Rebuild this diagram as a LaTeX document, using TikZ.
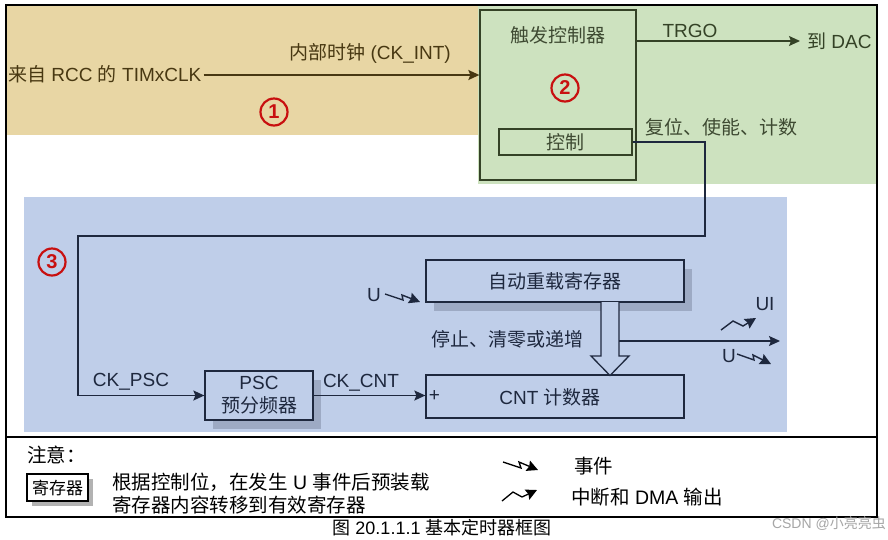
\documentclass[tikz,border=0pt]{standalone}
\usepackage{fontspec}
\setmainfont{Liberation Sans}
\newfontfamily\cjk{Noto Sans CJK SC}
\newcommand{\zh}[1]{{\cjk #1}}
\usetikzlibrary{arrows.meta,shadows}
\definecolor{tanc}{RGB}{232,214,164}
\definecolor{greenc}{RGB}{205,226,191}
\definecolor{bluec}{RGB}{191,206,233}
\definecolor{shadc}{RGB}{157,170,196}
\definecolor{navy}{RGB}{30,40,62}
\definecolor{dkgreen}{RGB}{52,66,38}
\definecolor{brownc}{RGB}{72,56,18}
\definecolor{numred}{RGB}{200,16,16}
\definecolor{txtgreen}{RGB}{62,74,50}
\begin{document}
\begin{tikzpicture}[x=1pt,y=-1pt,
  font=\fontsize{19}{23}\selectfont,
  >={Stealth[length=11pt,width=10pt,inset=2pt]},
  num/.style={circle, draw=numred, line width=2.2pt, text=numred,
    font=\fontsize{20}{20}\selectfont\bfseries, minimum size=27pt, inner sep=0pt},
  trigbox/.style={draw=dkgreen, line width=1.3pt, text=txtgreen, inner sep=0pt},
  bbox/.style={draw=navy, line width=1.3pt, fill=bluec, text=navy, inner sep=0pt},
  shad/.style={drop shadow={shadow xshift=8pt, shadow yshift=-9pt, fill=shadc, opacity=1}},
  wire/.style={draw=navy, line width=1.3pt},
  zig/.style={draw=navy, line width=1.4pt, -{Stealth[length=11pt,width=11pt,inset=1.5pt]}},
  lzig/.style={draw=black, line width=1.3pt, -{Stealth[length=11pt,width=11pt,inset=1.5pt]}},
  btext/.style={text=navy},
  legend/.style={font=\fontsize{19.5}{23}\selectfont, text=black}
]
\useasboundingbox (0,0) rectangle (888,539);
\fill[white] (0,0) rectangle (888,539);
\clip (0,0) rectangle (888,539);

% regions
\fill[tanc] (6,5) rectangle (480,135);
\fill[greenc] (478,5) rectangle (877,184);
\fill[bluec] (24,197) rectangle (787,432);

% region 1 and 2
\node[trigbox, minimum width=156pt, minimum height=170pt] (trig) at (558,95) {};
\node[text=txtgreen] (trigt) at (558,35) {\zh{触发控制器}};
\node[num] (n2) at (565,88) {2};
\node[trigbox, minimum width=133pt, minimum height=26pt] (ctrl) at (565.5,142) {\zh{控制}};

\node[anchor=west, text=brownc, inner sep=1pt] (clk) at (7,74) {\zh{来自} RCC \zh{的} TIMxCLK};
\node[text=brownc] (cki) at (370,53) {\zh{内部时钟} (CK\_INT)};
\draw[->, brownc, line width=1.5pt] (clk.east) ++(1,1) coordinate (clks) (clks) -- (clks -| trig.west);
\node[num] (n1) at (274,112) {1};

\coordinate (dac) at (800,41);
\draw[->, dkgreen, line width=1.3pt] (dac -| trig.east) -- (dac);
\node[text=dkgreen] (trgo) at (690,31) {TRGO};
\node[anchor=west, text=dkgreen, inner sep=0pt] (dact) at (807,41) {\zh{到} DAC};
\node[anchor=west, text=txtgreen, inner sep=0pt] (rst) at (645,127) {\zh{复位、使能、计数}};

% region 3
\node[num] (n3) at (52,262) {3};
\node[bbox, shad, minimum width=108pt, minimum height=49pt, align=center] (psc) at (259,395.5) {PSC\\\zh{预分频器}};
\node[bbox, shad, minimum width=258pt, minimum height=42pt] (arr) at (555,281) {\zh{自动重载寄存器}};
\node[bbox, minimum width=258pt, minimum height=43pt] (cnt) at (555,396.5) {};
\node[btext] (cntt) at (550,397) {CNT \zh{计数器}};
\node[btext, anchor=west] (plus) at (cnt.west) {+};

\coordinate (c1) at (705,236);
\coordinate (c2) at (78,236);
\draw[wire, ->] (ctrl.east) -| (c1) -- (c2) |- (psc.west);
\node[btext] (ckpsc) at (131,382) {CK\_PSC};
\node[btext] (ckcnt) at (361,383) {CK\_CNT};
\draw[wire, ->] (psc.east) -- (psc.east -| cnt.west);

% hollow arrow
\draw[wire, fill=bluec] (601,302) -- (601,356) -- (591,356) -- (610,375.5) -- (629,356) -- (619,356) -- (619,302);
\node[btext] (stop) at (507,339) {\zh{停止、清零或递增}};
\coordinate (outs) at (619,341);
\coordinate (oute) at (780,341);
\draw[wire, ->] (outs) -- (oute);

\node[btext] (ui) at (765,304) {UI};
\draw[zig] (721,330) -- (733,321) -- (743,326) -- (756,318);
\node[btext] (u2) at (729,356) {U};
\draw[zig] (737,354) -- (754,360) -- (753,355) -- (771,364);
\node[btext] (u1) at (374,295) {U};
\draw[zig] (385,294) -- (403,300) -- (402,295) -- (420,302);

% legend
\draw[line width=2.2pt] (6,5) rectangle (877,517);
\draw[line width=2pt] (6,436.5) -- (877,436.5);
\node[legend, anchor=west, inner sep=0pt] (note) at (27,455) {\zh{注意：}};
\node[draw=black, line width=1.2pt, fill=white, inner sep=0pt,
  drop shadow={shadow xshift=5pt, shadow yshift=-5pt, fill=black!30, opacity=1},
  minimum width=61pt, minimum height=27pt, font=\fontsize{17}{17}\selectfont] (reg) at (57.5,487.5) {\zh{寄存器}};
\node[legend, anchor=west, align=left, inner sep=0pt] (regt) at (112,493.5) {\zh{根据控制位，在发生} U \zh{事件后预装载}\\\zh{寄存器内容转移到有效寄存器}};
\draw[lzig] (503,462) -- (521,468) -- (519,462) -- (538,470);
\node[legend, anchor=west, inner sep=0pt] (evt) at (574,466) {\zh{事件}};
\draw[lzig] (502,501) -- (513,492) -- (522,497) -- (537,490);
\node[legend, anchor=west, inner sep=0pt] (irq) at (571,497) {\zh{中断和} DMA \zh{输出}};

\node[font=\fontsize{18}{18}\selectfont, inner sep=0pt] (cap) at (442,528) {\zh{图} 20.1.1.1 \zh{基本定时器框图}};
\node[text=black!35, font=\fontsize{14}{14}\selectfont, anchor=east, inner sep=0pt] (wm) at (886,524) {CSDN @\zh{小亮亮虫}};
\end{tikzpicture}
\end{document}
